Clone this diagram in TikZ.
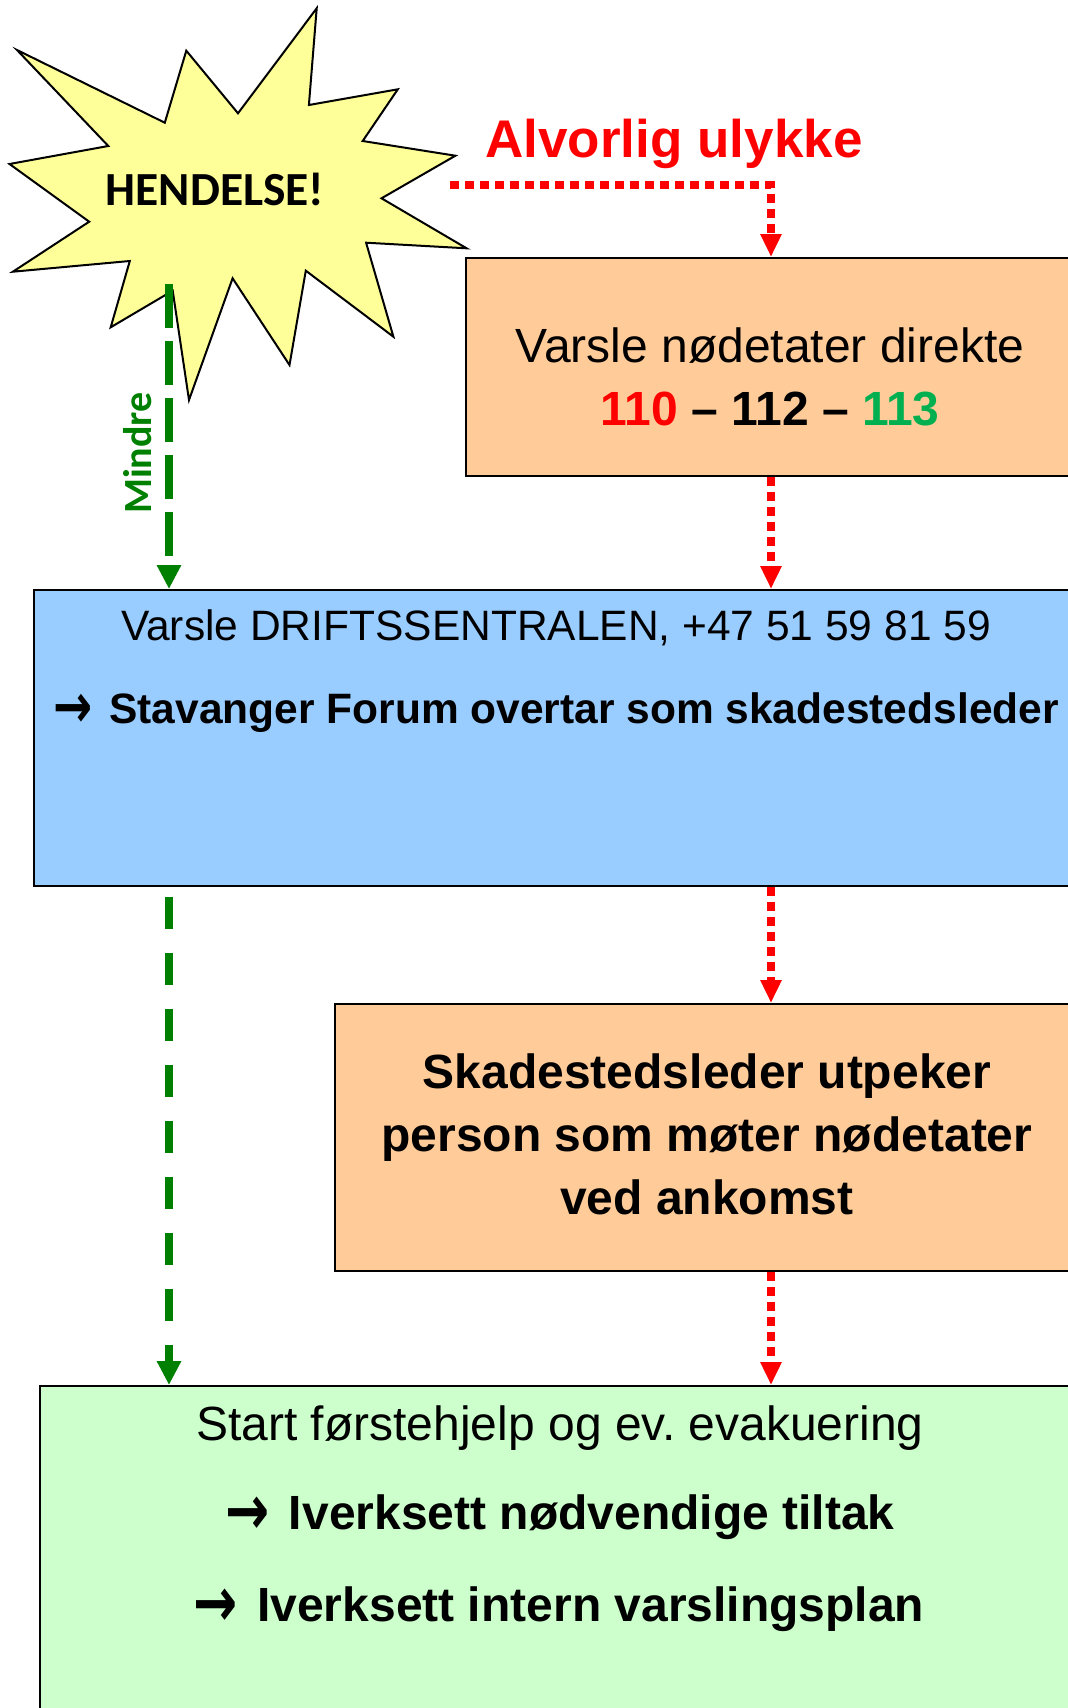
\documentclass[tikz,border=0pt]{standalone}
\usepackage{fontspec}
\usepackage{graphicx}
\setmainfont{Liberation Sans}
\newfontfamily\calibri{Carlito}
\newfontfamily\pilfont{DejaVu Sans}
\usetikzlibrary{arrows.meta}
\definecolor{starfill}{HTML}{FFFF99}
\definecolor{orangefill}{HTML}{FFCC99}
\definecolor{bluefill}{HTML}{99CCFF}
\definecolor{greenfill}{HTML}{CCFFCC}
\definecolor{darkgreen}{HTML}{008000}
\definecolor{numgreen}{HTML}{00B050}
\newcommand\pxsize[1]{\fontsize{#1}{#1}\selectfont}
\newcommand\pil{\raisebox{-0.11em}{\scalebox{1.1}[1.45]{\pilfont\bfseries →}}\hspace{0.4em}}
\frenchspacing
\tikzset{
  box/.style={draw=black, line width=2pt, anchor=north west, inner sep=0pt},
  txt/.style={anchor=base, inner sep=0pt},
  reddot/.style={draw=red, line width=8pt, dash pattern=on 9pt off 6pt, -{Triangle[length=23pt,width=20pt]}},
  greendash/.style={draw=darkgreen, line width=8pt, dash pattern=on 44pt off 13pt, -{Triangle[length=24pt,width=23pt]}},
  greendashb/.style={draw=darkgreen, line width=8pt, dash pattern=on 32pt off 24pt, -{Triangle[length=24pt,width=23pt]}}
}
\begin{document}
\begin{tikzpicture}[x=1pt,y=-1pt]
    \useasboundingbox (0,0) rectangle (1068,1708);
    \clip (0,0) rectangle (1068,1708);
    \fill[white] (0,0) rectangle (1068,1708);
    \draw[fill=starfill, line width=2pt, line join=miter] (316.7,8.3) -- (308.9,105) -- (397.8,89.3) -- (362.7,141) -- (455.4,155.7) -- (381.5,198.3) -- (466.6,248.3) -- (366.1,242.7) -- (393.4,336.7) -- (305.8,270.7) -- (289.5,365) -- (232.6,278.3) -- (189,400) -- (172.7,290.7) -- (110.7,327.3) -- (129.8,261) -- (12.9,271.7) -- (89.2,221.7) -- (9.5,164) -- (108.3,146) -- (17,50) -- (164.8,122.7) -- (186.3,50.7) -- (238,113.3) -- cycle;
    \node[txt] (hendelse) at (215,205) {\calibri\bfseries\pxsize{47.5}HENDELSE!};
    \node[txt, text=red] (alvorlig) at (674,157) {\bfseries\pxsize{53}Alvorlig ulykke};
    \node[txt, text=darkgreen, rotate=90, anchor=center] (mindre) at (138,453) {\calibri\bfseries\pxsize{40}Mindre};

    \node[box, fill=orangefill, minimum width=610pt, minimum height=218pt] (varsle) at (465,257) {};
    \node[txt] (varslea) at (770,362) {\pxsize{48}Varsle nødetater direkte};
    \node[txt] (varsleb) at (770,425) {\bfseries\pxsize{48}\textcolor{red}{110} – 112 – \textcolor{numgreen}{113}};

    \node[box, fill=bluefill, minimum width=1046pt, minimum height=296pt] (drift) at (33,589) {};
    \node[txt] (drifta) at (556,640) {\pxsize{42.5}Varsle DRIFTSSENTRALEN, +47 51 59 81 59};
    \node[txt] (driftb) at (556,723) {\bfseries\pxsize{42.5}\pil Stavanger Forum overtar som skadestedsleder};

    \node[box, fill=orangefill, minimum width=746pt, minimum height=267pt] (leder) at (334,1003) {};
    \node[txt] (ledera) at (707,1088) {\bfseries\pxsize{48}Skadestedsleder utpeker};
    \node[txt] (lederb) at (707,1151) {\bfseries\pxsize{48}person som møter nødetater};
    \node[txt] (lederc) at (707,1214) {\bfseries\pxsize{48}ved ankomst};

    \node[box, fill=greenfill, minimum width=1042pt, minimum height=340pt] (hjelp) at (39,1385) {};
    \node[txt] (hjelpa) at (560,1440) {\pxsize{48}Start førstehjelp og ev. evakuering};
    \node[txt] (hjelpb) at (560,1529) {\bfseries\pxsize{48}\pil Iverksett nødvendige tiltak};
    \node[txt] (hjelpc) at (559,1621) {\bfseries\pxsize{48}\pil Iverksett intern varslingsplan};

    \coordinate (redstart) at (450,185);
    \draw[reddot] (redstart) -| (varsle.north);
    \draw[reddot] (varsle.south) -- (varsle.south |- drift.north);
    \draw[reddot] (varsle.south |- drift.south) -- (varsle.south |- leder.north);
    \draw[reddot] (varsle.south |- leder.south) -- (varsle.south |- hjelp.north);

    \coordinate (greenstart) at (169,284);
    \coordinate (greenmid) at (169,897);
    \draw[greendash] (greenstart) -- (greenstart |- drift.north);
    \draw[greendashb] (greenmid) -- (greenmid |- hjelp.north);
\end{tikzpicture}
\end{document}
